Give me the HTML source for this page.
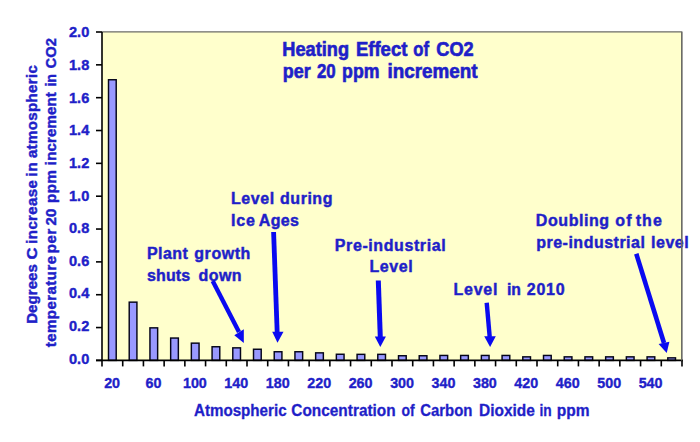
<!DOCTYPE html>
<html><head><meta charset="utf-8"><style>
html,body{margin:0;padding:0;background:#fff;width:700px;height:442px;overflow:hidden}
svg{display:block}
text{font-family:"Liberation Sans",sans-serif;font-weight:bold;fill:#1f1fc8;stroke:#1f1fc8;paint-order:stroke}
</style></head><body>
<svg width="700" height="442" viewBox="0 0 700 442">
<rect width="700" height="442" fill="#fff"/>
<rect x="102.0" y="32.0" width="579.7" height="328.4" fill="#ffffcc"/>
<rect x="108.51" y="79.75" width="7.7" height="280.65" fill="#9999ff" stroke="#05051a" stroke-width="1.45"/>
<rect x="129.22" y="302.15" width="7.7" height="58.25" fill="#9999ff" stroke="#05051a" stroke-width="1.45"/>
<rect x="149.94" y="327.85" width="7.7" height="32.55" fill="#9999ff" stroke="#05051a" stroke-width="1.45"/>
<rect x="170.65" y="338.05" width="7.7" height="22.35" fill="#9999ff" stroke="#05051a" stroke-width="1.45"/>
<rect x="191.36" y="343.15" width="7.7" height="17.25" fill="#9999ff" stroke="#05051a" stroke-width="1.45"/>
<rect x="212.08" y="346.75" width="7.7" height="13.65" fill="#9999ff" stroke="#05051a" stroke-width="1.45"/>
<rect x="232.79" y="347.85" width="7.7" height="12.55" fill="#9999ff" stroke="#05051a" stroke-width="1.45"/>
<rect x="253.51" y="349.25" width="7.7" height="11.15" fill="#9999ff" stroke="#05051a" stroke-width="1.45"/>
<rect x="274.22" y="351.75" width="7.7" height="8.65" fill="#9999ff" stroke="#05051a" stroke-width="1.45"/>
<rect x="294.94" y="351.75" width="7.7" height="8.65" fill="#9999ff" stroke="#05051a" stroke-width="1.45"/>
<rect x="315.65" y="352.85" width="7.7" height="7.55" fill="#9999ff" stroke="#05051a" stroke-width="1.45"/>
<rect x="336.36" y="354.25" width="7.7" height="6.15" fill="#9999ff" stroke="#05051a" stroke-width="1.45"/>
<rect x="357.08" y="354.35" width="7.7" height="6.05" fill="#9999ff" stroke="#05051a" stroke-width="1.45"/>
<rect x="377.79" y="354.35" width="7.7" height="6.05" fill="#9999ff" stroke="#05051a" stroke-width="1.45"/>
<rect x="398.51" y="355.75" width="7.7" height="4.65" fill="#9999ff" stroke="#05051a" stroke-width="1.45"/>
<rect x="419.22" y="355.75" width="7.7" height="4.65" fill="#9999ff" stroke="#05051a" stroke-width="1.45"/>
<rect x="439.94" y="355.45" width="7.7" height="4.95" fill="#9999ff" stroke="#05051a" stroke-width="1.45"/>
<rect x="460.65" y="355.45" width="7.7" height="4.95" fill="#9999ff" stroke="#05051a" stroke-width="1.45"/>
<rect x="481.36" y="355.45" width="7.7" height="4.95" fill="#9999ff" stroke="#05051a" stroke-width="1.45"/>
<rect x="502.08" y="355.45" width="7.7" height="4.95" fill="#9999ff" stroke="#05051a" stroke-width="1.45"/>
<rect x="522.79" y="356.85" width="7.7" height="3.55" fill="#9999ff" stroke="#05051a" stroke-width="1.45"/>
<rect x="543.51" y="355.45" width="7.7" height="4.95" fill="#9999ff" stroke="#05051a" stroke-width="1.45"/>
<rect x="564.22" y="356.85" width="7.7" height="3.55" fill="#9999ff" stroke="#05051a" stroke-width="1.45"/>
<rect x="584.94" y="356.85" width="7.7" height="3.55" fill="#9999ff" stroke="#05051a" stroke-width="1.45"/>
<rect x="605.65" y="356.85" width="7.7" height="3.55" fill="#9999ff" stroke="#05051a" stroke-width="1.45"/>
<rect x="626.36" y="356.85" width="7.7" height="3.55" fill="#9999ff" stroke="#05051a" stroke-width="1.45"/>
<rect x="647.08" y="356.85" width="7.7" height="3.55" fill="#9999ff" stroke="#05051a" stroke-width="1.45"/>
<rect x="667.79" y="357.85" width="7.7" height="2.55" fill="#9999ff" stroke="#05051a" stroke-width="1.45"/>
<path d="M102.0 31.9H681.7V360.4" fill="none" stroke="#6c6c66" stroke-width="1.4"/>
<path d="M102.0 32.0V360.4" stroke="#000" stroke-width="1.6"/>
<path d="M96.0 360.4H683.0" stroke="#000" stroke-width="1.6"/>
<path d="M96.0 360.40H102.0" stroke="#000" stroke-width="1.6"/>
<path d="M96.0 327.56H102.0" stroke="#000" stroke-width="1.6"/>
<path d="M96.0 294.72H102.0" stroke="#000" stroke-width="1.6"/>
<path d="M96.0 261.88H102.0" stroke="#000" stroke-width="1.6"/>
<path d="M96.0 229.04H102.0" stroke="#000" stroke-width="1.6"/>
<path d="M96.0 196.20H102.0" stroke="#000" stroke-width="1.6"/>
<path d="M96.0 163.36H102.0" stroke="#000" stroke-width="1.6"/>
<path d="M96.0 130.52H102.0" stroke="#000" stroke-width="1.6"/>
<path d="M96.0 97.68H102.0" stroke="#000" stroke-width="1.6"/>
<path d="M96.0 64.84H102.0" stroke="#000" stroke-width="1.6"/>
<path d="M96.0 32.00H102.0" stroke="#000" stroke-width="1.6"/>
<path d="M102.00 360.4V366.4" stroke="#000" stroke-width="1.6"/>
<path d="M122.71 360.4V366.4" stroke="#000" stroke-width="1.6"/>
<path d="M143.43 360.4V366.4" stroke="#000" stroke-width="1.6"/>
<path d="M164.14 360.4V366.4" stroke="#000" stroke-width="1.6"/>
<path d="M184.86 360.4V366.4" stroke="#000" stroke-width="1.6"/>
<path d="M205.57 360.4V366.4" stroke="#000" stroke-width="1.6"/>
<path d="M226.29 360.4V366.4" stroke="#000" stroke-width="1.6"/>
<path d="M247.00 360.4V366.4" stroke="#000" stroke-width="1.6"/>
<path d="M267.71 360.4V366.4" stroke="#000" stroke-width="1.6"/>
<path d="M288.43 360.4V366.4" stroke="#000" stroke-width="1.6"/>
<path d="M309.14 360.4V366.4" stroke="#000" stroke-width="1.6"/>
<path d="M329.86 360.4V366.4" stroke="#000" stroke-width="1.6"/>
<path d="M350.57 360.4V366.4" stroke="#000" stroke-width="1.6"/>
<path d="M371.29 360.4V366.4" stroke="#000" stroke-width="1.6"/>
<path d="M392.00 360.4V366.4" stroke="#000" stroke-width="1.6"/>
<path d="M412.71 360.4V366.4" stroke="#000" stroke-width="1.6"/>
<path d="M433.43 360.4V366.4" stroke="#000" stroke-width="1.6"/>
<path d="M454.14 360.4V366.4" stroke="#000" stroke-width="1.6"/>
<path d="M474.86 360.4V366.4" stroke="#000" stroke-width="1.6"/>
<path d="M495.57 360.4V366.4" stroke="#000" stroke-width="1.6"/>
<path d="M516.29 360.4V366.4" stroke="#000" stroke-width="1.6"/>
<path d="M537.00 360.4V366.4" stroke="#000" stroke-width="1.6"/>
<path d="M557.71 360.4V366.4" stroke="#000" stroke-width="1.6"/>
<path d="M578.43 360.4V366.4" stroke="#000" stroke-width="1.6"/>
<path d="M599.14 360.4V366.4" stroke="#000" stroke-width="1.6"/>
<path d="M619.86 360.4V366.4" stroke="#000" stroke-width="1.6"/>
<path d="M640.57 360.4V366.4" stroke="#000" stroke-width="1.6"/>
<path d="M661.29 360.4V366.4" stroke="#000" stroke-width="1.6"/>
<path d="M682.00 360.4V366.4" stroke="#000" stroke-width="1.6"/>
<g font-size="14.6" stroke-width="0.4">
<text x="89.3" y="363.7" text-anchor="end">0.0</text>
<text x="89.3" y="331.1" text-anchor="end">0.2</text>
<text x="89.3" y="298.4" text-anchor="end">0.4</text>
<text x="89.3" y="265.8" text-anchor="end">0.6</text>
<text x="89.3" y="233.1" text-anchor="end">0.8</text>
<text x="89.3" y="200.5" text-anchor="end">1.0</text>
<text x="89.3" y="167.8" text-anchor="end">1.2</text>
<text x="89.3" y="135.2" text-anchor="end">1.4</text>
<text x="89.3" y="102.5" text-anchor="end">1.6</text>
<text x="89.3" y="69.9" text-anchor="end">1.8</text>
<text x="89.3" y="37.2" text-anchor="end">2.0</text>
</g>
<g font-size="15.5" stroke-width="0.4">
<text x="112.1" y="387.8" text-anchor="middle" textLength="15.94" lengthAdjust="spacingAndGlyphs">20</text>
<text x="153.5" y="387.8" text-anchor="middle" textLength="15.94" lengthAdjust="spacingAndGlyphs">60</text>
<text x="194.9" y="387.8" text-anchor="middle" textLength="23.91" lengthAdjust="spacingAndGlyphs">100</text>
<text x="236.3" y="387.8" text-anchor="middle" textLength="23.91" lengthAdjust="spacingAndGlyphs">140</text>
<text x="277.8" y="387.8" text-anchor="middle" textLength="23.91" lengthAdjust="spacingAndGlyphs">180</text>
<text x="319.2" y="387.8" text-anchor="middle" textLength="23.91" lengthAdjust="spacingAndGlyphs">220</text>
<text x="360.6" y="387.8" text-anchor="middle" textLength="23.91" lengthAdjust="spacingAndGlyphs">260</text>
<text x="402.1" y="387.8" text-anchor="middle" textLength="23.91" lengthAdjust="spacingAndGlyphs">300</text>
<text x="443.5" y="387.8" text-anchor="middle" textLength="23.91" lengthAdjust="spacingAndGlyphs">340</text>
<text x="484.9" y="387.8" text-anchor="middle" textLength="23.91" lengthAdjust="spacingAndGlyphs">380</text>
<text x="526.3" y="387.8" text-anchor="middle" textLength="23.91" lengthAdjust="spacingAndGlyphs">420</text>
<text x="567.8" y="387.8" text-anchor="middle" textLength="23.91" lengthAdjust="spacingAndGlyphs">460</text>
<text x="609.2" y="387.8" text-anchor="middle" textLength="23.91" lengthAdjust="spacingAndGlyphs">500</text>
<text x="650.6" y="387.8" text-anchor="middle" textLength="23.91" lengthAdjust="spacingAndGlyphs">540</text>
</g>
<text id="r0" stroke-width="0.45" transform="translate(37.4 0) rotate(-90)" x="-323.84" y="0" font-size="15" textLength="59.71" lengthAdjust="spacing">Degrees</text>
<text id="r1" stroke-width="0.45" transform="translate(37.4 0) rotate(-90)" x="-259.61" y="0" font-size="15" textLength="11.99" lengthAdjust="spacingAndGlyphs">C</text>
<text id="r2" stroke-width="0.45" transform="translate(37.4 0) rotate(-90)" x="-243.69" y="0" font-size="15" textLength="63.51" lengthAdjust="spacing">increase</text>
<text id="r3" stroke-width="0.45" transform="translate(37.4 0) rotate(-90)" x="-176.54" y="0" font-size="15" textLength="14.14" lengthAdjust="spacing">in</text>
<text id="r4" stroke-width="0.45" transform="translate(37.4 0) rotate(-90)" x="-158.10" y="0" font-size="15" textLength="92.90" lengthAdjust="spacing">atmospheric</text>
<text id="r5" stroke-width="0.45" transform="translate(56.4 0) rotate(-90)" x="-347.15" y="0" font-size="15" textLength="91.18" lengthAdjust="spacing">temperature</text>
<text id="r6" stroke-width="0.45" transform="translate(56.4 0) rotate(-90)" x="-253.24" y="0" font-size="15" textLength="24.56" lengthAdjust="spacing">per</text>
<text id="r7" stroke-width="0.45" transform="translate(56.4 0) rotate(-90)" x="-225.38" y="0" font-size="15" textLength="16.61" lengthAdjust="spacingAndGlyphs">20</text>
<text id="r8" stroke-width="0.45" transform="translate(56.4 0) rotate(-90)" x="-203.04" y="0" font-size="15" textLength="32.83" lengthAdjust="spacing">ppm</text>
<text id="r9" stroke-width="0.45" transform="translate(56.4 0) rotate(-90)" x="-165.14" y="0" font-size="15" textLength="72.90" lengthAdjust="spacing">increment</text>
<text id="r10" stroke-width="0.45" transform="translate(56.4 0) rotate(-90)" x="-86.60" y="0" font-size="15" textLength="12.65" lengthAdjust="spacingAndGlyphs">in</text>
<text id="r11" stroke-width="0.45" transform="translate(56.4 0) rotate(-90)" x="-68.41" y="0" font-size="15" textLength="30.30" lengthAdjust="spacingAndGlyphs">CO2</text>
<text id="w0" x="282.35" y="55.6" font-size="19.6" textLength="66.65" lengthAdjust="spacingAndGlyphs" stroke-width="0.65">Heating</text>
<text id="w1" x="355.93" y="55.6" font-size="19.6" textLength="51.43" lengthAdjust="spacingAndGlyphs" stroke-width="0.65">Effect</text>
<text id="w2" x="413.26" y="55.6" font-size="19.6" textLength="15.71" lengthAdjust="spacingAndGlyphs" stroke-width="0.65">of</text>
<text id="w3" x="436.28" y="55.6" font-size="19.6" textLength="37.39" lengthAdjust="spacingAndGlyphs" stroke-width="0.65">CO2</text>
<text id="w4" x="282.82" y="77.9" font-size="19.6" textLength="27.90" lengthAdjust="spacingAndGlyphs" stroke-width="0.65">per</text>
<text id="w5" x="316.90" y="77.9" font-size="19.6" textLength="18.70" lengthAdjust="spacingAndGlyphs" stroke-width="0.65">20</text>
<text id="w6" x="342.08" y="77.9" font-size="19.6" textLength="37.35" lengthAdjust="spacingAndGlyphs" stroke-width="0.65">ppm</text>
<text id="w7" x="387.51" y="77.9" font-size="19.6" textLength="89.99" lengthAdjust="spacingAndGlyphs" stroke-width="0.65">increment</text>
<text id="w8" x="231.07" y="203.6" font-size="16" textLength="43.01" lengthAdjust="spacing" stroke-width="0.45">Level</text>
<text id="w9" x="280.08" y="203.6" font-size="16" textLength="52.36" lengthAdjust="spacing" stroke-width="0.45">during</text>
<text id="w10" x="231.07" y="226.1" font-size="16" textLength="23.95" lengthAdjust="spacing" stroke-width="0.45">Ice</text>
<text id="w11" x="258.84" y="226.1" font-size="16" textLength="40.05" lengthAdjust="spacing" stroke-width="0.45">Ages</text>
<text id="w12" x="146.97" y="259.3" font-size="16" textLength="40.88" lengthAdjust="spacing" stroke-width="0.45">Plant</text>
<text id="w13" x="194.27" y="259.3" font-size="16" textLength="56.10" lengthAdjust="spacing" stroke-width="0.45">growth</text>
<text id="w14" x="146.96" y="280.6" font-size="16" textLength="43.18" lengthAdjust="spacing" stroke-width="0.45">shuts</text>
<text id="w15" x="198.53" y="280.6" font-size="16" textLength="43.08" lengthAdjust="spacing" stroke-width="0.45">down</text>
<text id="w16" x="334.83" y="250.5" font-size="16" textLength="110.85" lengthAdjust="spacing" stroke-width="0.45">Pre-industrial</text>
<text id="w17" x="369.53" y="271.5" font-size="16" textLength="43.12" lengthAdjust="spacing" stroke-width="0.45">Level</text>
<text id="w18" x="453.53" y="295.3" font-size="16" textLength="43.92" lengthAdjust="spacing" stroke-width="0.45">Level</text>
<text id="w19" x="506.98" y="295.3" font-size="16" textLength="14.00" lengthAdjust="spacingAndGlyphs" stroke-width="0.45">in</text>
<text id="w20" x="526.72" y="295.3" font-size="16" textLength="37.95" lengthAdjust="spacing" stroke-width="0.45">2010</text>
<text id="w21" x="535.83" y="226.3" font-size="16" textLength="73.30" lengthAdjust="spacing" stroke-width="0.45">Doubling</text>
<text id="w22" x="615.25" y="226.3" font-size="16" textLength="16.45" lengthAdjust="spacing" stroke-width="0.45">of</text>
<text id="w23" x="635.63" y="226.3" font-size="16" textLength="26.27" lengthAdjust="spacing" stroke-width="0.45">the</text>
<text id="w24" x="536.24" y="247.5" font-size="16" textLength="108.65" lengthAdjust="spacing" stroke-width="0.45">pre-industrial</text>
<text id="w25" x="651.09" y="247.5" font-size="16" textLength="37.52" lengthAdjust="spacing" stroke-width="0.45">level</text>
<text id="w26" x="193.94" y="415.6" font-size="15.8" textLength="92.66" lengthAdjust="spacingAndGlyphs" stroke-width="0.3">Atmospheric</text>
<text id="w27" x="291.35" y="415.6" font-size="15.8" textLength="104.30" lengthAdjust="spacingAndGlyphs" stroke-width="0.3">Concentration</text>
<text id="w28" x="401.48" y="415.6" font-size="15.8" textLength="13.18" lengthAdjust="spacingAndGlyphs" stroke-width="0.3">of</text>
<text id="w29" x="420.22" y="415.6" font-size="15.8" textLength="52.25" lengthAdjust="spacingAndGlyphs" stroke-width="0.3">Carbon</text>
<text id="w30" x="479.09" y="415.6" font-size="15.8" textLength="55.82" lengthAdjust="spacingAndGlyphs" stroke-width="0.3">Dioxide</text>
<text id="w31" x="539.49" y="415.6" font-size="15.8" textLength="12.23" lengthAdjust="spacingAndGlyphs" stroke-width="0.3">in</text>
<text id="w32" x="556.83" y="415.6" font-size="15.8" textLength="32.81" lengthAdjust="spacingAndGlyphs" stroke-width="0.3">ppm</text>
<path d="M681.7 32.0V360.4" stroke="#6c6c66" stroke-width="1.4"/>
<g stroke="#0a0af0" fill="none" stroke-linecap="butt">
<path d="M273.6 232 L277.2 333" stroke-width="4.8"/>
<path d="M212.7 281 L239 332" stroke-width="4.4"/>
<path d="M378.3 280.5 L380.3 337.5" stroke-width="5"/>
<path d="M486.7 302.8 L489.7 337" stroke-width="4.4"/>
<path d="M636.3 253.8 L664 343" stroke-width="4.6"/>
</g>
<g fill="#0a0af0">
<path d="M272.2 331.8 L283.5 331.8 L277.5 342.8 Z"/>
<path d="M234.3 335.2 L243.8 329.3 L243.8 343.1 Z"/>
<path d="M374.8 336.6 L385.9 336.6 L380.3 346.9 Z"/>
<path d="M484.2 336.2 L495.8 336.2 L490.1 346.9 Z"/>
<path d="M658.6 344 L669.4 341.7 L666.7 353 Z"/>
</g>
</svg>
</body></html>
